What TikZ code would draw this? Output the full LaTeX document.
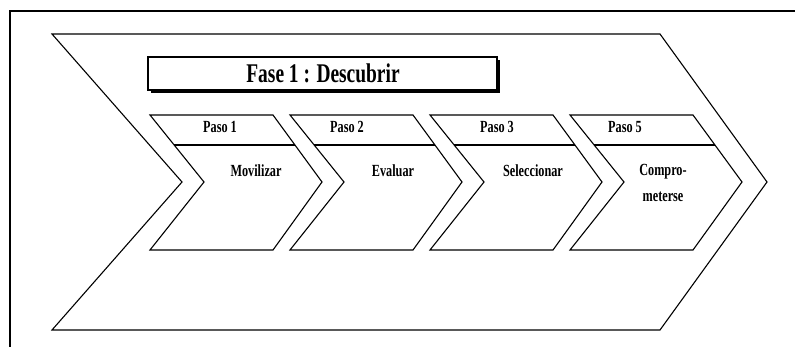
\documentclass[tikz,border=0pt]{standalone}
\usepackage{fontspec}
\newfontfamily\cond[FakeStretch=0.72]{Liberation Serif}
\tikzset{
  shapeline/.style={draw=black, line width=1.1pt, line join=miter},
  frameline/.style={draw=black, line width=2pt},
  pasotext/.style={font=\cond\bfseries\fontsize{17}{18}\selectfont, inner sep=0pt},
  steptext/.style={font=\cond\bfseries\fontsize{17}{26}\selectfont, inner sep=0pt, align=center},
  titletext/.style={font=\cond\bfseries\fontsize{27}{28}\selectfont, inner sep=0pt}
}
\begin{document}
\begin{tikzpicture}[x=1pt,y=-1pt]
\useasboundingbox (0,0) rectangle (795,347);
% frame
\draw[frameline] (10,347) -- (10,11) -- (795,11);
% big chevron
\draw[shapeline] (52,34) -- (660,34) -- (767,182) -- (660,330) -- (52,330) -- (182,182) -- cycle;
% title box with shadow
\fill[black] (151,60) rectangle (500,93);
\draw[shapeline, fill=white] (148,57) rectangle (497,90);
\node[titletext] (title) at (323,73) {Fase 1 : Descubrir};
% steps
\foreach \L/\n in {150/1,290/2,430/3,570/5}{
  \draw[shapeline] (\L,115) -- (\L+123,115) -- (\L+172,182) -- (\L+123,250) -- (\L,250) -- (\L+54,182) -- cycle;
  \draw[shapeline] (\L+24,145) -- (\L+145,145);
}
\node[pasotext] (p1) at (220,127) {Paso 1};
\node[pasotext] (p2) at (347,127) {Paso 2};
\node[pasotext] (p3) at (497,127) {Paso 3};
\node[pasotext] (p5) at (625,127) {Paso 5};
\node[steptext] (s1) at (256,171) {Movilizar};
\node[steptext] (s2) at (393,171) {Evaluar};
\node[steptext] (s3) at (533,171) {Seleccionar};
\node[steptext] (s5) at (663,183) {Compro-\\meterse};
\end{tikzpicture}
\end{document}
